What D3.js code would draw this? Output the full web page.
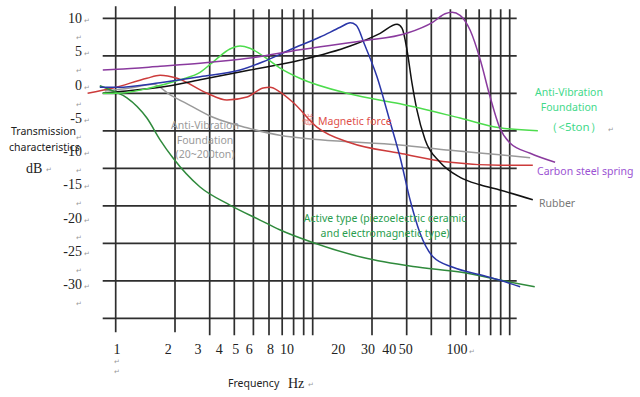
<!DOCTYPE html>
<html>
<head>
<meta charset="utf-8">
<script src="https://d3js.org/d3.v7.min.js"></script>
<style>
  body { margin: 0; background: #fff; }
</style>
</head>
<body>
<div id="chart"></div>
<script>
// tick values and the curves: [frequency Hz, dB]
var freqGrid = [1, 2, 3, 4, 5, 6, 7, 8, 9, 10, 20, 30, 40, 50, 60, 70, 80, 90, 100];
var freqLabels = [1, 2, 3, 4, 5, 6, 8, 10, 20, 30, 40, 50, 100];
var dbTicks = [10, 5, 0, -5, -10, -15, -20, -25, -30];

var carbonSpring = [[0.86,3.1],[1.02,3.2],[1.68,3.6],[2.68,4.0],[4.8,4.7],[8.6,5.8],[18,7.0],[30,8.0],
  [40.8,9.5],[47,10.6],[51,10.8],[56,10.4],[63,8.4],[71,4.4],[79,-0.2],[89,-4.6],[100,-6.6],[127,-8.0],[170,-9.2]];
var blueCurve = [[0.83,0.8],[1.02,0.8],[1.68,1.4],[2.68,2.2],[4.28,3.1],[5.6,4.2],[7.67,5.8],[10.9,7.5],
  [13.8,8.8],[15.5,9.4],[16.6,9.1],[18.4,6.4],[21.2,2.2],[24.7,-3.8],[27.75,-8.5],[31.2,-14.2],[35,-18.6],
  [40.8,-21.8],[51.5,-23.2],[70.7,-24.2],[89,-24.9],[113,-25.8]];
var rubber = [[0.86,0],[1.02,0.2],[1.68,0.8],[2.68,1.8],[4.8,3.1],[8.6,4.4],[15.5,6.3],[22,8.0],[26.8,9.2],
  [28.4,8.7],[30.1,5.8],[31.9,1.4],[33.8,-2.2],[37.2,-6.2],[44.3,-9.2],[56,-11.2],[70.7,-12.2],[89,-12.9],[131,-14.2]];
var magnetic = [[0.72,0],[0.97,0.7],[1.44,2.0],[1.68,2.4],[2.05,2.0],[2.91,0],[3.67,-0.9],[4.64,-0.5],
  [5.6,0.7],[6.07,0.8],[6.8,0.2],[7.94,-1.2],[10.5,-4.5],[15.5,-6.6],[27.75,-8.0],[50,-9.2],[89,-9.6],[131,-9.6]];
var foundationBig = [[0.88,0.3],[1.18,0.7],[1.55,1.2],[1.89,-0.2],[2.38,-1.6],[3.12,-3.2],[4.64,-4.6],
  [6.8,-5.6],[10.9,-6.2],[27.75,-6.9],[50,-7.6],[89,-8.2],[127,-8.6]];
var foundationSmall = [[0.86,0],[1.02,0],[1.49,0.7],[2.12,1.8],[2.68,2.8],[3.19,4.4],[3.8,5.9],[4.28,6.3],
  [4.8,6.0],[5.73,4.8],[6.8,3.4],[8.6,2.0],[15.5,-0.1],[27.75,-1.4],[56,-3.3],[89,-4.6],[139,-5.0]];
var activeType = [[0.83,1.0],[0.97,0.3],[1.14,-0.6],[1.44,-3.3],[1.68,-6.2],[1.95,-8.6],[2.68,-12.5],
  [3.8,-14.9],[5.4,-16.9],[6.8,-18.2],[10,-19.9],[18,-21.9],[32.3,-23.1],[58,-23.9],[89,-24.9],[134,-25.8]];

var width = 640, height = 397;

var svg = d3.select("#chart")
    .append("svg")
    .attr("width", width)
    .attr("height", height)
    .style("background", "#fff");

// grid scales, and the (slightly offset) scales the tick texts sit on
var x = d3.scaleLog().domain([1, 100]).range([115.7, 509.7]);
var y = d3.scaleLinear().domain([10, -30]).range([18.3, 318.3]);
var xText = d3.scaleLog().domain([1, 100]).range([117, 457]);
var yText = d3.scaleLinear().domain([10, -30]).range([18, 284]);

var serif = "'Liberation Serif', 'DejaVu Serif', serif";
var sans = "'Noto Sans', 'Open Sans', sans-serif";

// grid
var grid = svg.append("g").attr("stroke", "#2e2e2e").attr("stroke-width", 1.7);
grid.selectAll("line.h")
    .data(dbTicks)
    .enter()
    .append("line")
    .attr("class", "h")
    .attr("x1", x(1) - 13)
    .attr("x2", x(100) + 7)
    .attr("y1", d => y(d))
    .attr("y2", d => y(d));
grid.selectAll("line.v")
    .data(freqGrid)
    .enter()
    .append("line")
    .attr("class", "v")
    .attr("x1", d => x(d))
    .attr("x2", d => x(d))
    .attr("y1", (d, i) => y(10) - (i < 2 ? 12 : 9))
    .attr("y2", (d, i) => y(-30) + (i < 2 ? 14 : 17));

// curves
var line = d3.line()
    .x(d => x(d[0]))
    .y(d => y(d[1]))
    .curve(d3.curveMonotoneX);

var curves = [
  {data: foundationBig, color: "#9a9a9a"},
  {data: magnetic, color: "#cc3b3b"},
  {data: rubber, color: "#111111"},
  {data: activeType, color: "#2f8a3c"},
  {data: foundationSmall, color: "#4ddc4d"},
  {data: blueCurve, color: "#2a36a8"},
  {data: carbonSpring, color: "#8a3a9e"}
];

svg.append("g").selectAll("path")
    .data(curves)
    .enter()
    .append("path")
    .attr("d", d => line(d.data))
    .attr("fill", "none")
    .attr("stroke", d => d.color)
    .attr("stroke-width", 1.5);

// y tick texts with the Word paragraph marks
var yAxisText = svg.append("g");
yAxisText.selectAll("text.tick")
    .data(dbTicks)
    .enter()
    .append("text")
    .attr("x", 82)
    .attr("y", d => yText(d) + 5)
    .attr("text-anchor", "end")
    .attr("font-family", serif)
    .attr("font-size", "14px")
    .attr("fill", "#222")
    .text(d => d);
yAxisText.selectAll("text.mark")
    .data(dbTicks)
    .enter()
    .append("text")
    .attr("x", 84)
    .attr("y", d => yText(d) + 5)
    .attr("font-size", "7px")
    .attr("fill", "#999")
    .text("↵");
yAxisText.selectAll("text.gap")
    .data(dbTicks)
    .enter()
    .append("text")
    .attr("x", 76)
    .attr("y", d => yText(d) + 22)
    .attr("font-size", "7px")
    .attr("fill", "#999")
    .text("↵");

// x tick texts
svg.append("g").selectAll("text")
    .data(freqLabels)
    .enter()
    .append("text")
    .attr("x", d => xText(d))
    .attr("y", 354)
    .attr("text-anchor", "middle")
    .attr("font-family", serif)
    .attr("font-size", "14px")
    .attr("fill", "#222")
    .text(d => d);
svg.append("text").attr("x", xText(100) + 12).attr("y", 354)
    .attr("font-size", "7px").attr("fill", "#999").text("↵");
[364, 374].forEach(function(yy) {
  svg.append("text").attr("x", xText(1) - 3).attr("y", yy)
      .attr("font-size", "7px").attr("fill", "#999").text("↵");
});

// axis titles
svg.append("text").attr("x", 11).attr("y", 135)
    .attr("font-family", sans).attr("font-size", "10.5px").attr("fill", "#222")
    .text("Transmission");
svg.append("text").attr("x", 9).attr("y", 151)
    .attr("font-family", sans).attr("font-size", "10.5px").attr("fill", "#222")
    .text("characteristics");
svg.append("text").attr("x", 26).attr("y", 173)
    .attr("font-family", serif).attr("font-size", "14px").attr("fill", "#222")
    .text("dB");
svg.append("text").attr("x", 46).attr("y", 172)
    .attr("font-size", "7px").attr("fill", "#999").text("↵");

svg.append("text").attr("x", 228).attr("y", 387)
    .attr("font-family", sans).attr("font-size", "10.5px").attr("fill", "#222")
    .text("Frequency");
svg.append("text").attr("x", 288).attr("y", 388)
    .attr("font-family", serif).attr("font-size", "14px").attr("fill", "#222")
    .text("Hz");
svg.append("text").attr("x", 308).attr("y", 387)
    .attr("font-size", "7px").attr("fill", "#999").text("↵");

// curve labels
function label(lines, cx, y0, color, anchor, size) {
  var t = svg.append("text")
      .attr("font-family", sans)
      .attr("font-size", (size || 10.5) + "px")
      .attr("fill", color)
      .attr("text-anchor", anchor || "middle");
  lines.forEach(function(s, i) {
    t.append("tspan").attr("x", cx).attr("y", y0 + i * 14.5).text(s);
  });
  return t;
}

label(["Anti-Vibration", "Foundation"], 569, 96, "#3fd98a");
label(["（<5ton）"], 574, 131, "#3fd98a", "middle", 11.5);
svg.append("text").attr("x", 608).attr("y", 132)
    .attr("font-size", "7px").attr("fill", "#999").text("↵");
label(["Carbon steel spring"], 537, 175, "#9b52d3", "start");
label(["Rubber"], 539, 207, "#777", "start");
label(["Anti-Vibration", "Foundation", "(20~200ton)"], 205, 129, "#9a9a9a");
svg.append("text").attr("x", 302).attr("y", 125)
    .attr("font-family", "'Noto Sans CJK SC', sans-serif").attr("font-size", "12px")
    .attr("fill", "#e0504a").attr("opacity", 0.6).text("磁");
label(["Magnetic force"], 318, 125, "#e0504a", "start");
label(["Active type (piezoelectric ceramic", "and electromagnetic type)"], 385, 222, "#2a9d4e");
</script>
</body>
</html>
